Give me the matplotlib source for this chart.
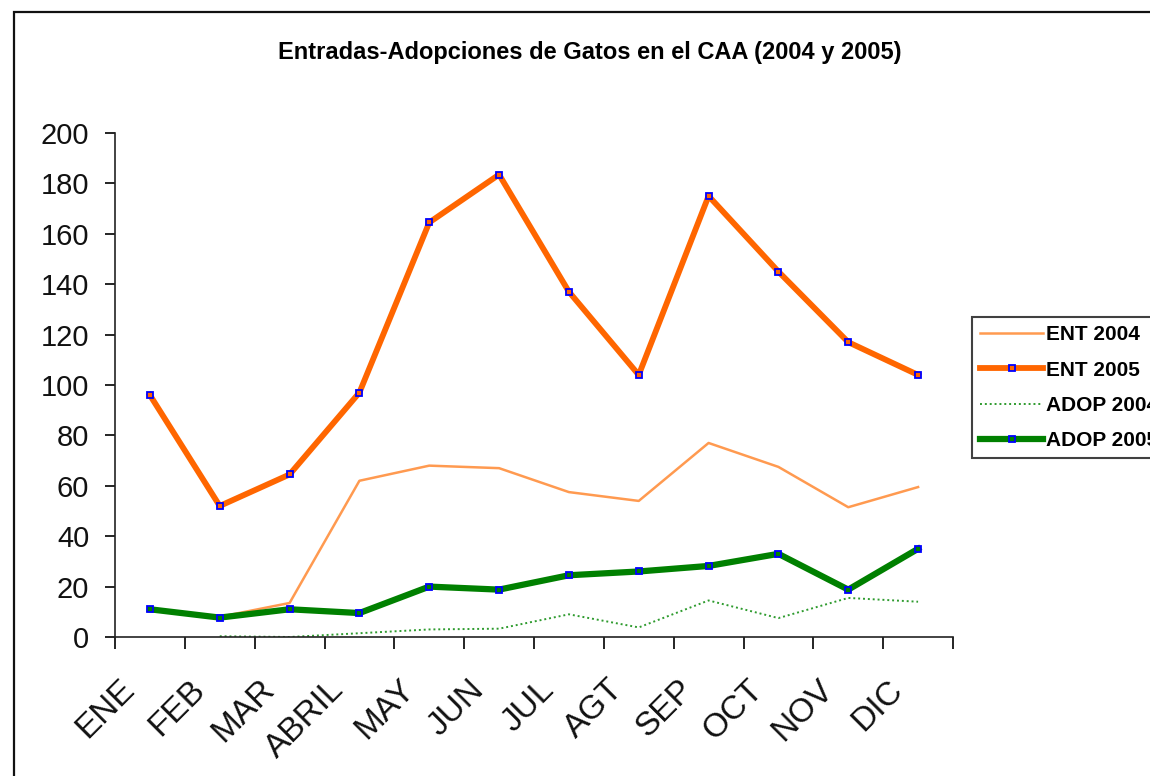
import numpy as np
import matplotlib
matplotlib.use("Agg")
import matplotlib.pyplot as plt
from matplotlib import font_manager
from matplotlib.patches import Rectangle
from matplotlib.transforms import ScaledTranslation

months = ["ENE", "FEB", "MAR", "ABRIL", "MAY", "JUN", "JUL", "AGT", "SEP", "OCT", "NOV", "DIC"]
ent_2004 = [np.nan, 8, 13.5, 62, 68, 67, 57.5, 54, 77, 67.5, 51.5, 59.5]
ent_2005 = [96, 52, 64.5, 97, 164.5, 183.5, 137, 104, 175, 145, 117, 104]
adop_2004 = [np.nan, 0.3, 0, 1.5, 3, 3.3, 9, 3.8, 14.5, 7.5, 15.5, 14]
adop_2005 = [11, 7.7, 11, 9.5, 20, 18.8, 24.5, 26, 28.2, 33, 18.8, 35]
yticks = [0, 20, 40, 60, 80, 100, 120, 140, 160, 180, 200]
title = "Entradas-Adopciones de Gatos en el CAA (2004 y 2005)"

def has_font(name):
    try:
        font_manager.findfont(font_manager.FontProperties(family=name), fallback_to_default=False)
        return True
    except Exception:
        return False

base = "Liberation Sans" if has_font("Liberation Sans") else "DejaVu Sans"
narrow = "Liberation Sans Narrow" if has_font("Liberation Sans Narrow") else base
plt.rcParams["font.family"] = [base, "DejaVu Sans"]

W, H = 1150, 776
fig = plt.figure(figsize=(W / 100, H / 100), dpi=100)
fig.patch.set_facecolor("white")

ax = fig.add_axes([115 / W, 1 - 637 / H, (953 - 115) / W, (637 - 133) / H])
x = np.arange(len(months)) + 0.5

ax.plot(x, ent_2004, color="#FF9A50", lw=1.8, label="ENT 2004", zorder=2)
ax.plot(x, ent_2005, color="#FF6600", lw=4.2, marker="s", ms=4.5, mfc="#FF6600",
        mec="#0000FF", mew=1.3, label="ENT 2005", zorder=4)
ax.plot(x, adop_2004, color="#2E9B2E", lw=1.4, ls=(0, (1, 1.5)), label="ADOP 2004", zorder=2)
ax.plot(x, adop_2005, color="#008000", lw=4.5, marker="s", ms=4.5, mfc="#008000",
        mec="#0000FF", mew=1.3, label="ADOP 2005", zorder=3)

ax.set_xlim(0, len(months))
ax.set_ylim(0, 200)
ax.set_yticks(yticks)
ax.set_yticklabels([str(v) for v in yticks], fontsize=21, color="#111111")
ax.tick_params(axis="y", direction="out", length=7.5, width=1.2, pad=11)

ax.set_xticks(np.arange(len(months) + 1))
ax.set_xticklabels([])
ax.tick_params(axis="x", which="major", direction="out", length=8.5, width=1.2)
ax.set_xticks(x, minor=True)
ax.set_xticklabels(months, minor=True, fontsize=24, rotation=45,
                   ha="right", va="top", rotation_mode="anchor", color="#111111")
ax.tick_params(axis="x", which="minor", length=0, pad=0)
off = ScaledTranslation(-31 / 100, -37 / 100, fig.dpi_scale_trans)
for lbl in ax.get_xticklabels(minor=True):
    lbl.set_transform(lbl.get_transform() + off)

for s in ["top", "right"]:
    ax.spines[s].set_visible(False)
for s in ["left", "bottom"]:
    ax.spines[s].set_linewidth(1.2)
    ax.spines[s].set_color("#222222")

fig.text(590 / W, 1 - 52 / H, title, ha="center", va="center", fontsize=17,
         family=[narrow, "DejaVu Sans"], fontweight="bold")

leg = fig.legend(loc="upper left", bbox_to_anchor=(972 / W, 1 - 317 / H),
                 frameon=True, fancybox=False, prop={"weight": "bold", "size": 15},
                 handlelength=3.0, handletextpad=0.15, borderpad=0.4,
                 labelspacing=0.78, borderaxespad=0, markerscale=1.0)
leg.get_frame().set_edgecolor("#111111")
leg.get_frame().set_linewidth(1.5)

fig.patches.append(Rectangle((14 / W, -0.2), 2, 1.2 - 12 / H, fill=False,
                             lw=1.6, ec="#111111", transform=fig.transFigure,
                             figure=fig, clip_on=False))

fig.savefig("out.png", dpi=100)
